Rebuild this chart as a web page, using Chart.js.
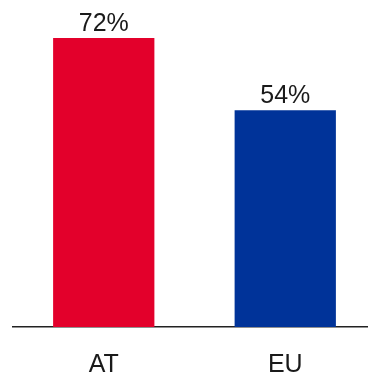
<!DOCTYPE html>
<html>
<head>
<meta charset="utf-8">
<script src="https://cdn.jsdelivr.net/npm/chart.js@4"></script>
<style>
    html, body { margin: 0; padding: 0; background: #fff; overflow: hidden; }
    #wrap { width: 368px; height: 376px; overflow: hidden; }
</style>
</head>
<body>
<div id="wrap"><canvas id="myChart" width="376" height="376"></canvas></div>
<script>
    const categories = ["AT", "EU"];
    const shares = [72, 54];
    const barColors = ["#e3002b", "#003399"];

    /* value labels above the bars */
    const valueLabels = {
        id: "valueLabels",
        afterDatasetsDraw(chart) {
            const ctx = chart.ctx;
            const meta = chart.getDatasetMeta(0);
            ctx.save();
            ctx.font = "25px 'Liberation Sans', Arial, sans-serif";
            ctx.fillStyle = "#1a1a1a";
            ctx.textAlign = "center";
            ctx.textBaseline = "alphabetic";
            meta.data.forEach((bar, i) => {
                ctx.fillText(shares[i] + "%", bar.x, bar.y - 7);
            });
            ctx.restore();
        }
    };

    let ctx = document.getElementById("myChart");
    let myChart = new Chart(ctx, {
        type: "bar",
        data: {
            labels: categories,
            datasets: [{
                data: shares,
                backgroundColor: barColors,
                borderWidth: 0,
                barPercentage: 0.558,
                categoryPercentage: 1
            }]
        },
        options: {
            responsive: false,
            animation: false,
            layout: { padding: { left: 13, right: 0, top: 0, bottom: 0 } },
            plugins: {
                legend: { display: false },
                tooltip: { enabled: false }
            },
            scales: {
                x: {
                    grid: { display: false, drawTicks: false },
                    border: { display: true, color: "#222", width: 1.5 },
                    ticks: {
                        color: "#1a1a1a",
                        padding: 26,
                        font: { family: "'Liberation Sans', Arial, sans-serif", size: 25, lineHeight: 1 }
                    },
                    afterFit: function (scale) { scale.height = 49; }
                },
                y: {
                    display: false,
                    min: 0,
                    max: 81.5
                }
            }
        },
        plugins: [valueLabels]
    });
</script>
</body>
</html>
